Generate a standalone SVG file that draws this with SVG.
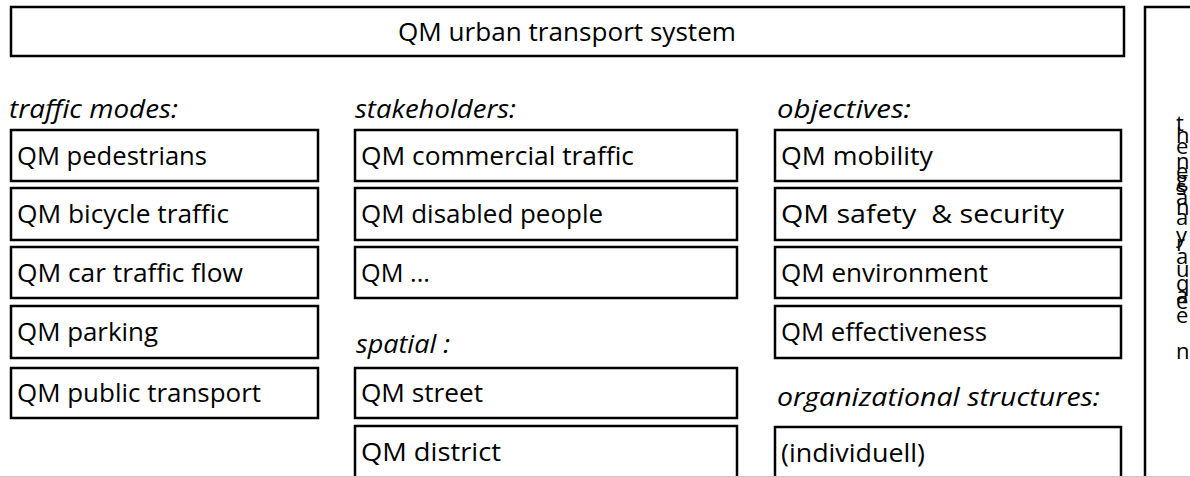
<svg xmlns="http://www.w3.org/2000/svg" width="1190" height="477" viewBox="0 0 1190 477">
<style>
  .box { fill: #ffffff; stroke: #000000; stroke-width: 2.5; }
  .t { font-family: "Open Sans", "Noto Sans", sans-serif; font-size: 25px; fill: #000000; }
  .lbl { font-family: "Open Sans", "Noto Sans", sans-serif; font-size: 25px; font-style: italic; fill: #000000; }
  .v { font-family: "Open Sans", "Noto Sans", sans-serif; font-size: 22px; fill: #000000; }
</style>
<rect width="1190" height="477" fill="#ffffff"/>
<g id="connectors"></g>

<g id="top">
  <rect class="box" x="11" y="7" width="1113" height="49"/>
  <text class="t" x="398" y="41" textLength="338" lengthAdjust="spacingAndGlyphs">QM urban transport system</text>
</g>

<g id="side">
  <path d="M1190 7 H1145 V477" fill="none" stroke="#000" stroke-width="2.5"/>
  <text class="v" x="1176" y="131">t</text>
  <text class="v" x="1176" y="143">h</text>
  <text class="v" x="1176" y="154">e</text>
  <text class="v" x="1176" y="169">n</text>
  <text class="v" x="1176" y="179">e</text>
  <text class="v" x="1176" y="187">g</text>
  <text class="v" x="1176" y="195">s</text>
  <text class="v" x="1176" y="205">a</text>
  <text class="v" x="1176" y="215">n</text>
  <text class="v" x="1176" y="225">a</text>
  <text class="v" x="1176" y="243">y</text>
  <text class="v" x="1176" y="251">r</text>
  <text class="v" x="1176" y="264">a</text>
  <text class="v" x="1176" y="277">u</text>
  <text class="v" x="1176" y="291">q</text>
  <text class="v" x="1176" y="303">a</text>
  <text class="v" x="1176" y="309">e</text>
  <text class="v" x="1176" y="323">e</text>
  <text class="v" x="1176" y="359">n</text>
</g>

<g id="labels">
  <text class="lbl" x="9" y="118" textLength="169" lengthAdjust="spacingAndGlyphs">traffic modes:</text>
  <text class="lbl" x="355" y="118" textLength="161" lengthAdjust="spacingAndGlyphs">stakeholders:</text>
  <text class="lbl" x="777" y="118" textLength="134" lengthAdjust="spacingAndGlyphs">objectives:</text>
  <text class="lbl" x="356" y="353" textLength="94" lengthAdjust="spacingAndGlyphs">spatial :</text>
  <text class="lbl" x="777" y="406" textLength="323" lengthAdjust="spacingAndGlyphs">organizational structures:</text>
</g>

<g id="n-pedestrians"><rect class="box" x="11" y="130" width="307" height="51"/><text class="t" x="17" y="165" textLength="190" lengthAdjust="spacingAndGlyphs">QM pedestrians</text></g>
<g id="n-bicycle"><rect class="box" x="11" y="188" width="307" height="52"/><text class="t" x="17" y="223" textLength="212" lengthAdjust="spacingAndGlyphs">QM bicycle traffic</text></g>
<g id="n-car"><rect class="box" x="11" y="247" width="307" height="51"/><text class="t" x="17" y="282" textLength="226" lengthAdjust="spacingAndGlyphs">QM car traffic flow</text></g>
<g id="n-parking"><rect class="box" x="11" y="306" width="307" height="52"/><text class="t" x="17" y="341" textLength="141" lengthAdjust="spacingAndGlyphs">QM parking</text></g>
<g id="n-public"><rect class="box" x="11" y="368" width="307" height="50"/><text class="t" x="17" y="402" textLength="244" lengthAdjust="spacingAndGlyphs">QM public transport</text></g>

<g id="n-commercial"><rect class="box" x="355" y="130" width="382" height="51"/><text class="t" x="361" y="165" textLength="273" lengthAdjust="spacingAndGlyphs">QM commercial traffic</text></g>
<g id="n-disabled"><rect class="box" x="355" y="188" width="382" height="52"/><text class="t" x="361" y="223" textLength="242" lengthAdjust="spacingAndGlyphs">QM disabled people</text></g>
<g id="n-etc"><rect class="box" x="355" y="247" width="382" height="51"/><text class="t" x="361" y="282" textLength="69" lengthAdjust="spacingAndGlyphs">QM ...</text></g>
<g id="n-street"><rect class="box" x="355" y="368" width="382" height="50"/><text class="t" x="361" y="402" textLength="122" lengthAdjust="spacingAndGlyphs">QM street</text></g>
<g id="n-district"><rect class="box" x="355" y="426" width="382" height="60"/><text class="t" x="361" y="461" textLength="140" lengthAdjust="spacingAndGlyphs">QM district</text></g>

<g id="n-mobility"><rect class="box" x="775" y="130" width="346" height="51"/><text class="t" x="781" y="165" textLength="152" lengthAdjust="spacingAndGlyphs">QM mobility</text></g>
<g id="n-safety"><rect class="box" x="775" y="188" width="346" height="52"/><text class="t" x="781" y="223" textLength="283" lengthAdjust="spacingAndGlyphs" xml:space="preserve">QM safety  &amp; security</text></g>
<g id="n-environment"><rect class="box" x="775" y="247" width="346" height="51"/><text class="t" x="781" y="282" textLength="207" lengthAdjust="spacingAndGlyphs">QM environment</text></g>
<g id="n-effectiveness"><rect class="box" x="775" y="306" width="346" height="52"/><text class="t" x="781" y="341" textLength="206" lengthAdjust="spacingAndGlyphs">QM effectiveness</text></g>
<g id="n-individuell"><rect class="box" x="775" y="427" width="346" height="60"/><text class="t" x="781" y="462" textLength="144" lengthAdjust="spacingAndGlyphs">(individuell)</text></g>

<line x1="0" y1="476.5" x2="1190" y2="476.5" stroke="#c8c8c8" stroke-width="1"/>
</svg>
